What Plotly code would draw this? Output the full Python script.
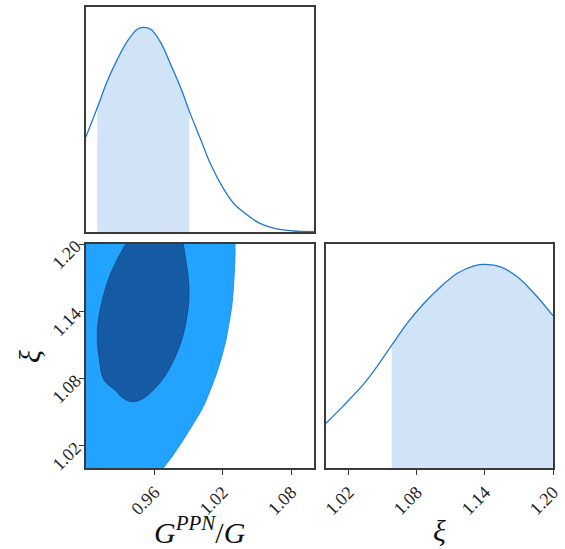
import numpy as np
import plotly.graph_objects as go

# ---- data ----
# 1D marginal of G^PPN/G (normalised density)
g_x = [0.9000, 0.9099, 0.9187, 0.9275, 0.9363, 0.9450, 0.9503, 0.9568, 0.9656,
       0.9743, 0.9831, 0.9906, 1.0006, 1.0094, 1.0211, 1.0292, 1.0380, 1.0526,
       1.0673, 1.0819, 1.1000]
g_p = [0.466, 0.607, 0.738, 0.844, 0.933, 0.991, 1.000, 0.991, 0.926,
       0.819, 0.705, 0.591, 0.452, 0.330, 0.207, 0.142, 0.098, 0.042,
       0.015, 0.005, 0.002]
g_interval = (0.9099, 0.9906)

# 1D marginal of xi
xi_x = [1.0000, 1.0159, 1.0335, 1.0452, 1.0579, 1.0716, 1.0863, 1.1011, 1.1157,
        1.1304, 1.1407, 1.1539, 1.1685, 1.1833, 1.2000]
xi_p = [0.220, 0.309, 0.414, 0.500, 0.603, 0.711, 0.809, 0.890, 0.956,
        0.993, 1.000, 0.988, 0.939, 0.858, 0.748]
xi_interval = (1.0579, 1.2000)

# 2D credible contours (G^PPN/G, xi)
c95_x = [1.0307, 1.0307, 1.0301, 1.0292, 1.0278, 1.0254, 1.0228, 1.0190, 1.0146,
         1.0090, 1.0029, 0.9944, 0.9853, 0.9754, 0.9678]
c95_y = [1.2000, 1.1887, 1.1738, 1.1589, 1.1440, 1.1292, 1.1143, 1.0994, 1.0846,
         1.0696, 1.0548, 1.0399, 1.0250, 1.0101, 1.0000]
c68_x = [0.9348, 0.9217, 0.9129, 0.9099, 0.9114, 0.9158, 0.9254, 0.9327, 0.9401,
         0.9474, 0.9561, 0.9708, 0.9839, 0.9897, 0.9903, 0.9892, 0.9853]
c68_y = [1.2000, 1.1738, 1.1440, 1.1202, 1.0994, 1.0786, 1.0696, 1.0622, 1.0592,
         1.0607, 1.0667, 1.0846, 1.1143, 1.1440, 1.1589, 1.1738, 1.2000]

g_ticks = [0.96, 1.02, 1.08]
xi_ticks = [1.02, 1.08, 1.14, 1.20]
g_range = [0.9, 1.1]
xi_range = [1.0, 1.2]
p_range = [0, 1.1]

LINE = "#1f78d1"
SHADE = "#d0e3f7"
C95 = "#22a3ff"
C68 = "#155ba4"
AX = "#3a3a3a"
SERIF = "Liberation Serif"

W, H = 565, 549

def px(p):
    return p / W

def py(p):
    return 1 - p / H

fig = go.Figure()

def marginal(xs, ys, interval, xr, xa, ya):
    # shaded credible interval: fill whole curve, then mask outside the interval
    fig.add_trace(go.Scatter(x=xs, y=ys, fill="tozeroy", fillcolor=SHADE, mode="lines",
                             line=dict(width=0, shape="spline", color=SHADE),
                             xaxis=xa, yaxis=ya, hoverinfo="skip"))
    lo, hi = interval
    for a, b in ((xr[0], lo), (hi, xr[1])):
        if b - a > 1e-9:
            fig.add_trace(go.Scatter(x=[a, b, b, a, a],
                                     y=[p_range[0], p_range[0], p_range[1], p_range[1], p_range[0]],
                                     fill="toself", fillcolor="white", mode="lines",
                                     line=dict(width=0, color="white"),
                                     xaxis=xa, yaxis=ya, hoverinfo="skip"))
    fig.add_trace(go.Scatter(x=xs, y=ys, mode="lines",
                             line=dict(color=LINE, width=1.3, shape="spline"),
                             xaxis=xa, yaxis=ya))

marginal(g_x, g_p, g_interval, g_range, "x", "y")

# 2D contours
fig.add_trace(go.Scatter(x=c95_x, y=c95_y, fill="tozerox", fillcolor=C95, mode="lines",
                         line=dict(color="#1a86d8", width=0.8, shape="spline"),
                         xaxis="x2", yaxis="y2"))
fig.add_trace(go.Scatter(x=c68_x, y=c68_y, fill="toself", fillcolor=C68, mode="lines",
                         line=dict(color="#0e4580", width=0.8, shape="spline"),
                         xaxis="x2", yaxis="y2"))

marginal(xi_x, xi_p, xi_interval, xi_range, "x3", "y3")

common = dict(showline=True, mirror=True, linecolor=AX, linewidth=1.5,
              showgrid=False, zeroline=False)
tickfmt = dict(ticks="outside", ticklen=5, tickwidth=1, tickcolor=AX,
               tickangle=-45, tickfont=dict(family=SERIF, size=18, color="#222"))

colL = [px(86), px(314)]
colR = [px(326), px(553)]
rowT = [py(232), py(7)]
rowB = [py(468), py(244)]

fig.update_layout(
    width=W, height=H, margin=dict(l=0, r=0, t=0, b=0, autoexpand=False),
    paper_bgcolor="white", plot_bgcolor="white", showlegend=False,
    xaxis=dict(domain=colL, range=g_range, anchor="y", showticklabels=False, ticks="", **common),
    yaxis=dict(domain=rowT, range=p_range, anchor="x", showticklabels=False, ticks="", **common),
    xaxis2=dict(domain=colL, range=g_range, anchor="y2", tickvals=g_ticks,
                ticktext=[f"{v:.2f}" for v in g_ticks], **tickfmt, **common),
    yaxis2=dict(domain=rowB, range=xi_range, anchor="x2", tickvals=xi_ticks,
                ticktext=[f"{v:.2f}" for v in xi_ticks], **tickfmt, **common),
    xaxis3=dict(domain=colR, range=xi_range, anchor="y3", tickvals=xi_ticks,
                ticktext=[f"{v:.2f}" for v in xi_ticks], **tickfmt, **common),
    yaxis3=dict(domain=rowB, range=p_range, anchor="x3", showticklabels=False, ticks="", **common),
)

lab = dict(family=SERIF, size=30, color="#111")
fig.add_annotation(text="<i>G</i><sup><i>PPN</i></sup>/<i>G</i>", xref="paper", yref="paper",
                   x=px(200), y=py(530), showarrow=False, font=lab,
                   xanchor="center", yanchor="middle")
fig.add_annotation(text="<i>ξ</i>", xref="paper", yref="paper",
                   x=px(439), y=py(530), showarrow=False, font=lab,
                   xanchor="center", yanchor="middle")
fig.add_annotation(text="<i>ξ</i>", xref="paper", yref="paper", textangle=-90,
                   x=px(30), y=py(357), showarrow=False, font=lab,
                   xanchor="center", yanchor="middle")

fig.write_html("out.html",
               config={"displayModeBar": False},
               post_script="document.body.style.margin='0';"
                           "document.body.style.overflow='hidden';")
